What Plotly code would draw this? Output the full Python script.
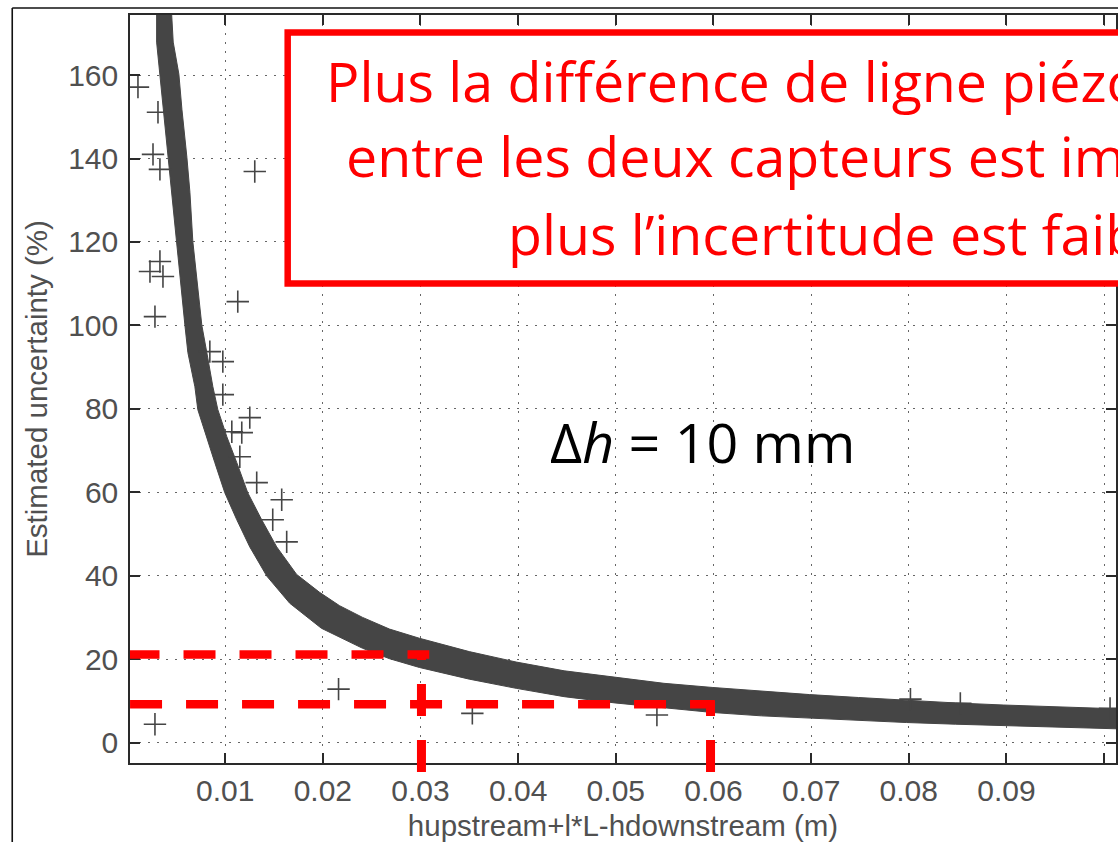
import plotly.graph_objects as go

# ---------------- data ----------------
# dense band of '+' markers: upper/right edge (left -> right)
band_upper_x = [0.00452, 0.00468, 0.00526, 0.00557, 0.00608, 0.00639, 0.00669, 0.00710,
                0.00761, 0.00812, 0.00874, 0.00925, 0.01017, 0.01119, 0.01231, 0.01374,
                0.01528, 0.01732, 0.01967, 0.02172, 0.02407, 0.02683, 0.02989, 0.03500,
                0.03980, 0.04471, 0.04992, 0.05493, 0.05994, 0.06494, 0.06985, 0.07485,
                0.07976, 0.08477, 0.08967, 0.09478, 0.10122]
band_upper_y = [174.6, 167.9, 160.2, 151.8, 140.3, 131.9, 120.1, 111.7,
                100.0, 93.5, 85.3, 79.8, 73.3, 67.1, 59.9, 53.4,
                46.9, 40.3, 36.0, 32.8, 30.0, 27.2, 25.0, 21.8,
                19.3, 17.2, 15.6, 14.2, 13.2, 12.3, 11.5, 10.8,
                10.1, 9.5, 9.0, 8.6, 8.1]
# lower/left edge (right -> left)
band_lower_x = [0.10122, 0.09478, 0.08967, 0.08477, 0.07976, 0.07485, 0.06985, 0.06494,
                0.05994, 0.05493, 0.04992, 0.04471, 0.03980, 0.03500, 0.02989, 0.02683,
                0.02407, 0.01985, 0.01661, 0.01426, 0.01252, 0.01119, 0.00996, 0.00894,
                0.00812, 0.00720, 0.00690, 0.00618, 0.00588, 0.00537, 0.00506, 0.00455,
                0.00414, 0.00363, 0.00332, 0.00298, 0.00298]
band_lower_y = [3.3, 3.7, 4.0, 4.4, 4.8, 5.3, 5.8, 6.4,
                7.2, 8.3, 9.5, 11.0, 13.0, 15.2, 18.0, 20.1,
                22.6, 27.4, 33.4, 39.9, 46.9, 53.4, 59.9, 67.1,
                73.3, 79.8, 85.3, 93.5, 100.0, 111.7, 120.1, 131.9,
                140.3, 151.8, 160.2, 167.9, 174.6]

# isolated '+' points
outlier_x = [0.00107, 0.00312, 0.00261, 0.00332, 0.01303, 0.00332, 0.00230, 0.00363,
             0.00281, 0.01129, 0.00843, 0.00976, 0.00976, 0.01252, 0.01170, 0.01068,
             0.01150, 0.01323, 0.01579, 0.01487, 0.01630, 0.00281, 0.02161, 0.03531,
             0.05421, 0.08017, 0.08528, 0.10061]
outlier_y = [157.1, 151.1, 141.0, 137.4, 136.9, 115.3, 112.9, 111.7,
             102.1, 105.7, 93.7, 91.3, 83.4, 77.9, 74.3, 74.5,
             68.5, 62.3, 58.2, 53.4, 48.1, 4.4, 12.8, 7.0,
             6.6, 10.4, 9.4, 8.2]

x_ticks = [0.01, 0.02, 0.03, 0.04, 0.05, 0.06, 0.07, 0.08, 0.09, 0.1]
x_tick_labels = ["0.01", "0.02", "0.03", "0.04", "0.05", "0.06", "0.07", "0.08", "0.09", "0.1"]
y_ticks = [0, 20, 40, 60, 80, 100, 120, 140, 160]
y_tick_labels = ["0", "20", "40", "60", "80", "100", "120", "140", "160"]

guide_y = [21.1, 9.2]          # red dashed horizontal guides (uncertainty %)
guide_x = [0.0301, 0.0597]     # red dashed vertical guides (m)

x_title = "hupstream+l*L-hdownstream (m)"
y_title = "Estimated uncertainty (%)"
box_lines = ["Plus la différence de ligne piézométrique",
             "entre les deux capteurs est importante,",
             "plus l’incertitude est faible"]
dh_text = "Δ<i>h</i> = 10 mm"

# ---------------- layout geometry ----------------
W, H = 1118, 842
ML, MR, MT, MB = 130, 0, 15, 79
PW, PH = W - ML - MR, H - MT - MB
X_RANGE = [0.000255, 0.10122]
Y_RANGE = [-4.9, 174.4]


def px(xpix):
    return (xpix - ML) / PW


def py(ypix):
    return (H - MB - ypix) / PH


def y_to_paper(v):
    return (v - Y_RANGE[0]) / (Y_RANGE[1] - Y_RANGE[0])


BAND = "#454545"
RED = "#FF0000"
AX = "#2a2a2a"
TXT = "#505050"
TICKFONT = dict(family="Liberation Sans", size=30, color=TXT)
TITLEFONT = dict(family="Liberation Sans", size=29.5, color=TXT)
BOXFONT = "Open Sans"
BOXSIZE = 55.5

fig = go.Figure()
fig.add_trace(go.Scatter(
    x=band_upper_x + band_lower_x,
    y=band_upper_y + band_lower_y,
    mode="lines", fill="toself", fillcolor=BAND,
    line=dict(color=BAND, width=1.0), hoverinfo="skip", showlegend=False))
fig.add_trace(go.Scatter(
    x=outlier_x, y=outlier_y, mode="markers",
    marker=dict(symbol="cross-thin", size=16, line=dict(width=1.6, color=BAND)),
    showlegend=False))

axis_common = dict(
    showline=True, linecolor=AX, linewidth=1.5, mirror="ticks",
    ticks="inside", ticklen=10, tickwidth=1.5, tickcolor=AX,
    showgrid=True, gridcolor="#666666", gridwidth=1.4, griddash="2px,7px",
    zeroline=False, tickfont=TICKFONT,
)

fig.update_xaxes(range=X_RANGE, tickvals=x_ticks, ticktext=x_tick_labels,
                 title=dict(text=x_title, font=TITLEFONT, standoff=10),
                 **axis_common)
fig.update_yaxes(range=Y_RANGE, tickvals=y_ticks, ticktext=y_tick_labels,
                 title=dict(text=y_title, font=TITLEFONT, standoff=12),
                 ticklabelstandoff=4, **axis_common)

shapes = []
# outer picture frame (left and top)
shapes.append(dict(type="line", xref="paper", yref="paper", x0=px(12), x1=px(12), y0=py(8), y1=py(H + 5),
                   line=dict(color="#111", width=1.6)))
shapes.append(dict(type="line", xref="paper", yref="paper", x0=px(12), x1=px(W + 5), y0=py(8), y1=py(8),
                   line=dict(color="#111", width=1.6)))
# red text box
shapes.append(dict(type="rect", xref="paper", yref="paper", x0=px(288), x1=px(1500), y0=py(283.5), y1=py(32.5),
                   line=dict(color=RED, width=6.5), fillcolor="white", layer="above"))
# red dashed guides
dash = "32px,24px"
shapes.append(dict(type="line", xref="x", yref="y", x0=0.0, x1=guide_x[0] + 0.0008, y0=guide_y[0], y1=guide_y[0],
                   line=dict(color=RED, width=8.5, dash=dash)))
shapes.append(dict(type="line", xref="x", yref="y", x0=0.00026, x1=guide_x[1] + 0.0004, y0=guide_y[1], y1=guide_y[1],
                   line=dict(color=RED, width=8.5, dash=dash)))
shapes.append(dict(type="line", xref="x", yref="paper", x0=guide_x[0], x1=guide_x[0], y0=py(772), y1=y_to_paper(guide_y[0]),
                   line=dict(color=RED, width=9, dash=dash)))
shapes.append(dict(type="line", xref="x", yref="paper", x0=guide_x[1], x1=guide_x[1], y0=py(772), y1=y_to_paper(guide_y[1]) + 4 / PH,
                   line=dict(color=RED, width=9, dash=dash)))

annotations = []
box_left = [324, 344, 507]
box_mid = [80.5, 155.5, 233.5]
for t, xl, ym in zip(box_lines, box_left, box_mid):
    annotations.append(dict(text=t, xref="paper", yref="paper", x=px(xl), y=py(ym),
                            xanchor="left", yanchor="middle", showarrow=False,
                            font=dict(family=BOXFONT, size=BOXSIZE, color=RED)))
annotations.append(dict(text=dh_text, xref="paper", yref="paper", x=px(549), y=py(441.5),
                        xanchor="left", yanchor="middle", showarrow=False,
                        font=dict(family=BOXFONT, size=BOXSIZE, color="black")))

fig.update_layout(width=W, height=H, margin=dict(l=ML, r=MR, t=MT, b=MB),
                  paper_bgcolor="white", plot_bgcolor="white",
                  shapes=shapes, annotations=annotations, showlegend=False)

fig.write_html("out.html", config={"displayModeBar": False},
               post_script="document.body.style.margin='0';document.body.style.overflow='hidden';")
